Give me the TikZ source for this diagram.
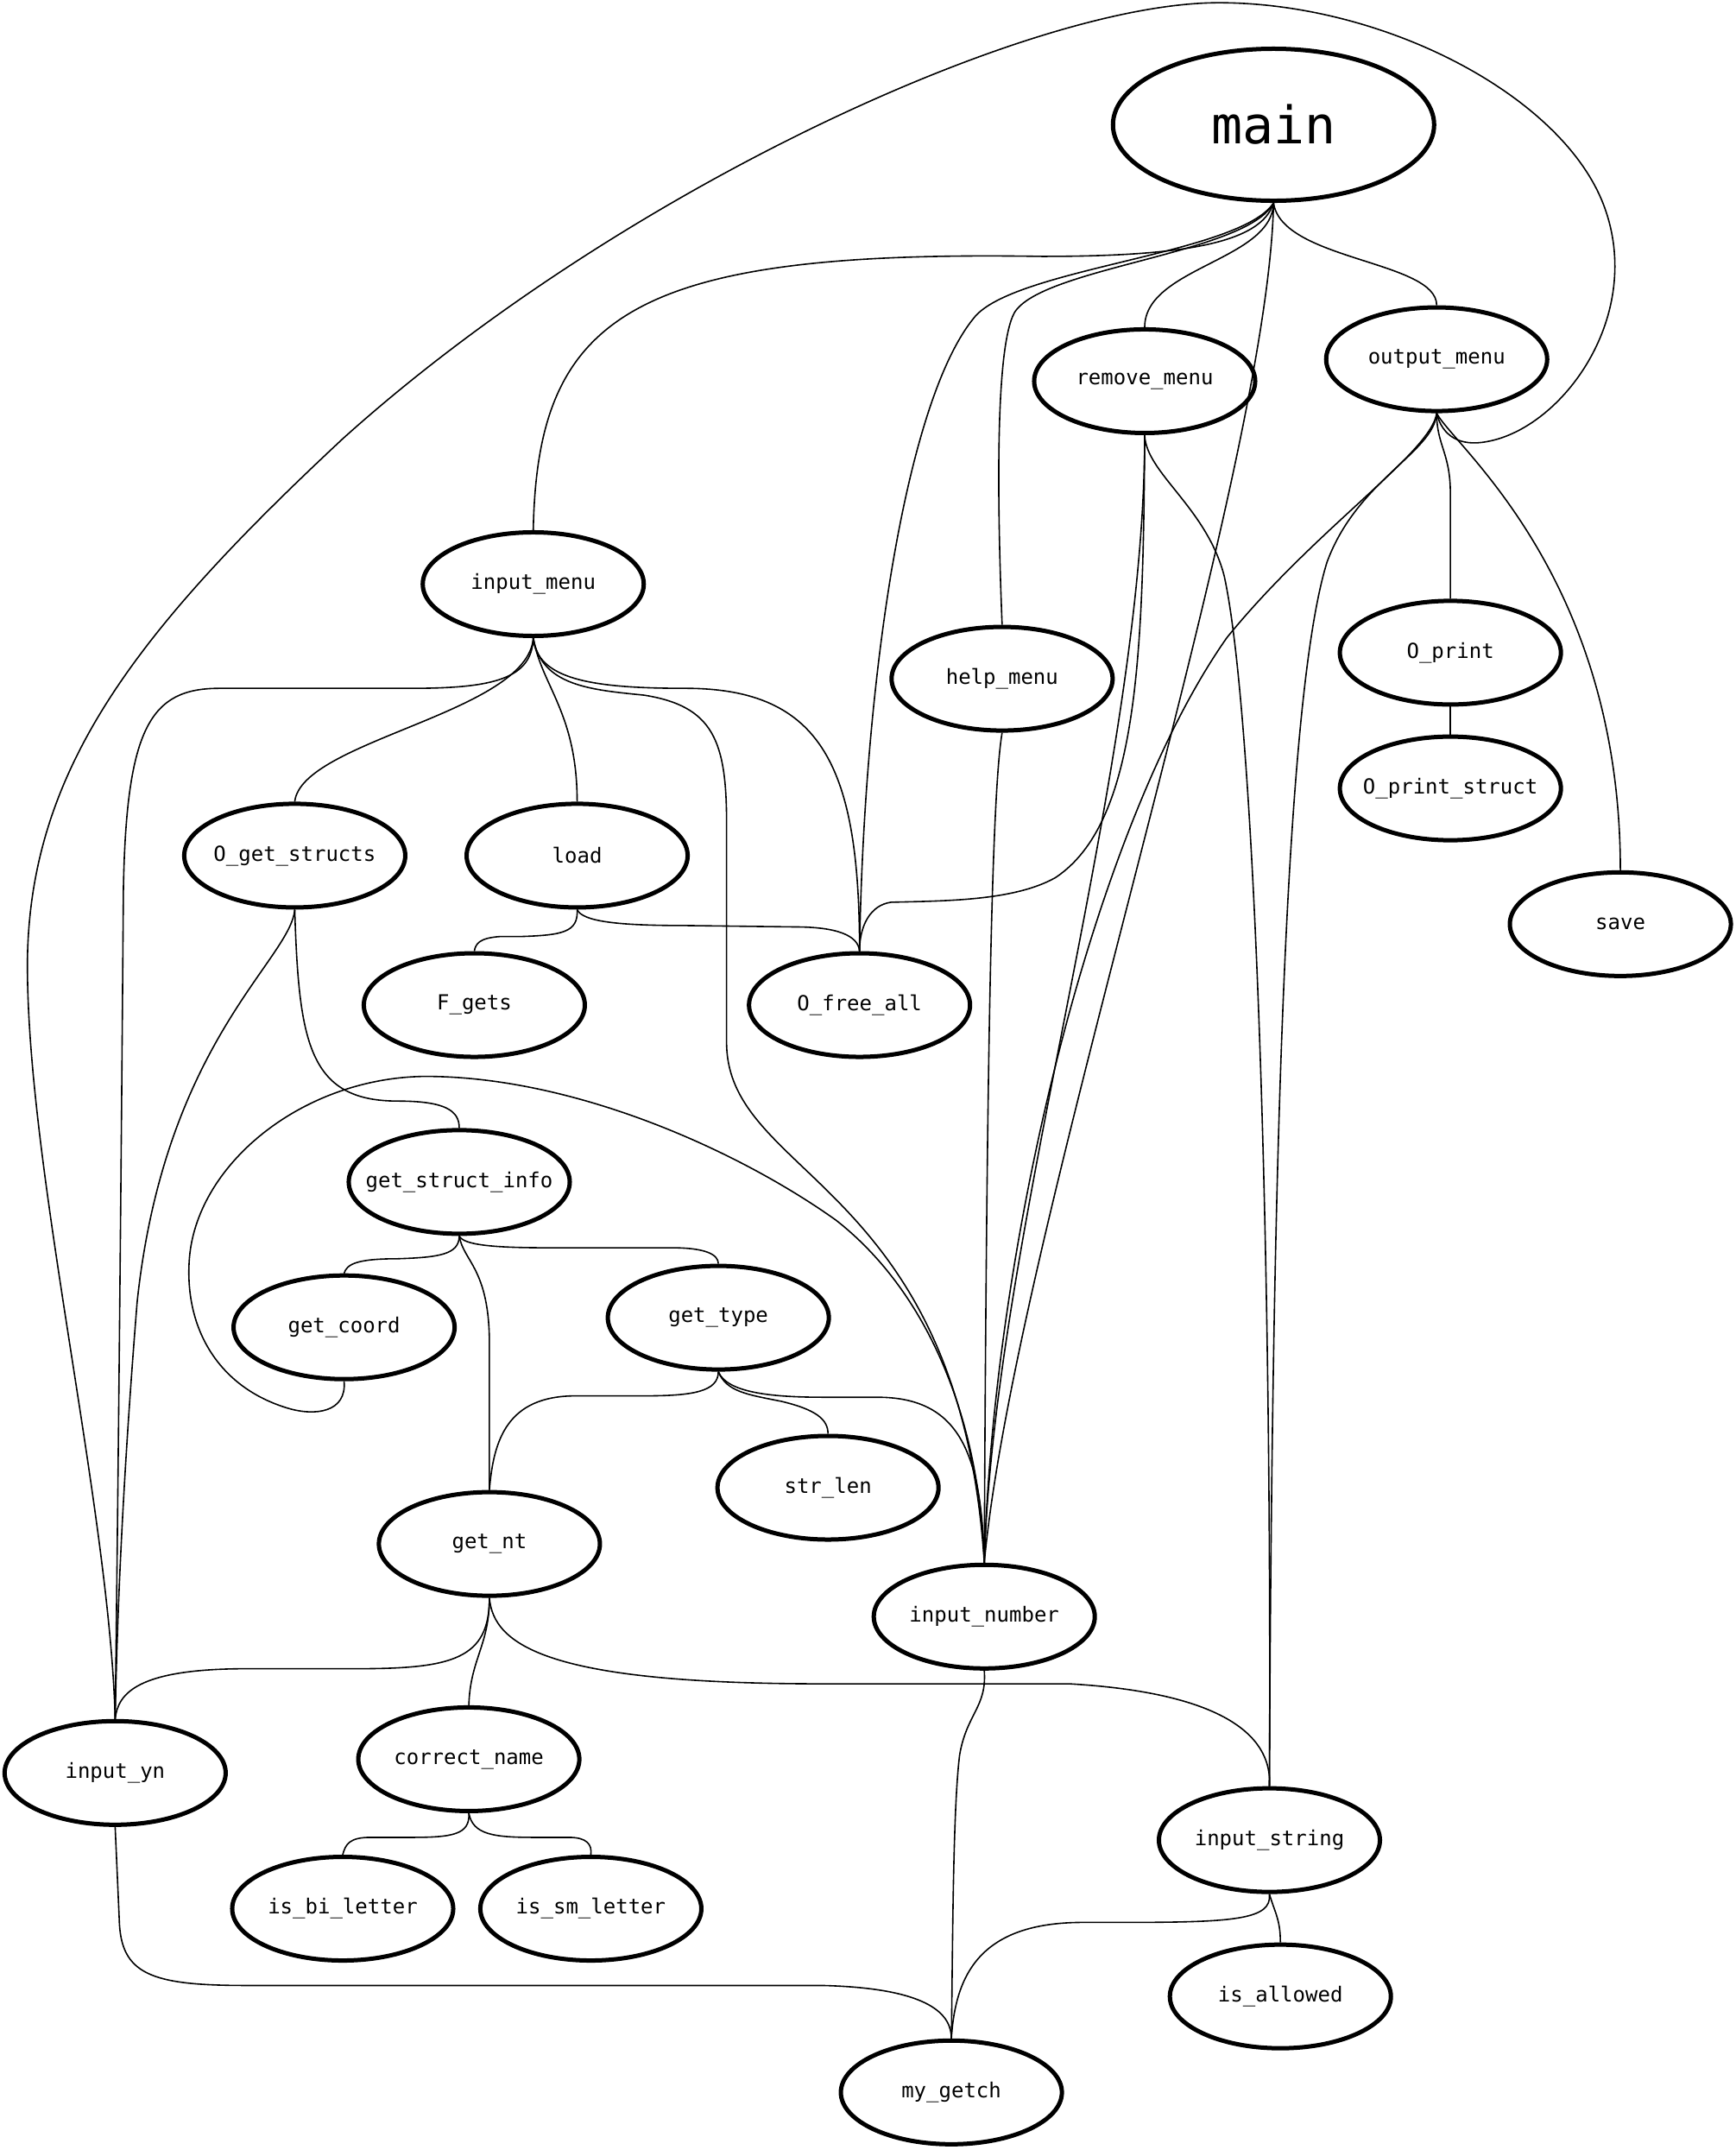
\documentclass[tikz,border=0pt]{standalone}
\usepackage{fontspec}
\setmonofont{DejaVu Sans Mono}
\usetikzlibrary{shapes.geometric}
\newcommand\fixw[1]{\makebox[0pt]{#1}}
\begin{document}
\begin{tikzpicture}[x=0.79385pt,y=-0.79385pt,
  fn/.style={ellipse,draw,line width=2.5pt,minimum width=128pt,minimum height=60pt,inner sep=0pt,font=\ttfamily\fontsize{12}{14}\selectfont},
  bigfn/.style={fn,minimum width=186pt,minimum height=88pt,font=\ttfamily\fontsize{30}{36}\selectfont},
  ed/.style={line width=0.8pt}]
\useasboundingbox[fill=white] (0,0) rectangle (1266,1568);

\node[bigfn] (main) at (929,91) {main};
\node[fn] (output_menu) at (1048,262) {output\_menu};
\node[fn] (remove_menu) at (835,278) {remove\_menu};
\node[fn] (input_menu) at (389,426) {input\_menu};
\node[fn] (help_menu) at (731,495) {help\_menu};
\node[fn] (O_print) at (1058,476) {O\_print};
\node[fn] (O_print_struct) at (1058,575) {\fixw{O\_print\_struct}};
\node[fn] (save) at (1182,674) {save};
\node[fn] (O_get_structs) at (215,624) {\fixw{O\_get\_structs}};
\node[fn] (load) at (421,624) {load};
\node[fn] (F_gets) at (346,733) {F\_gets};
\node[fn] (O_free_all) at (627,733) {O\_free\_all};
\node[fn] (get_struct_info) at (335,862) {\fixw{get\_struct\_info}};
\node[fn] (get_coord) at (251,968) {get\_coord};
\node[fn] (get_type) at (524,961) {get\_type};
\node[fn] (str_len) at (604,1085) {str\_len};
\node[fn] (get_nt) at (357,1126) {get\_nt};
\node[fn] (input_number) at (718,1179) {input\_number};
\node[fn] (input_yn) at (84,1293) {input\_yn};
\node[fn] (correct_name) at (342,1283) {correct\_name};
\node[fn] (is_bi_letter) at (250,1392) {is\_bi\_letter};
\node[fn] (is_sm_letter) at (431,1392) {is\_sm\_letter};
\node[fn] (input_string) at (926,1342) {input\_string};
\node[fn] (is_allowed) at (934,1456) {is\_allowed};
\node[fn] (my_getch) at (694,1526) {my\_getch};

% main
\draw[ed] (main.south) .. controls (935,190) and (1048,190) .. (output_menu.north);
\draw[ed] (main.south) .. controls (928,190) and (835,195) .. (remove_menu.north);
\draw[ed] (main.south) .. controls (920,178) and (860,187) .. (760,187) .. controls (460,182) and (392,230) .. (input_menu.north);
\draw[ed] (main.south) .. controls (910,185) and (760,195) .. (740,228) .. controls (725,255) and (728,380) .. (help_menu.north);
\draw[ed] (main.south) .. controls (905,185) and (745,195) .. (712,230) .. controls (660,290) and (630,500) .. (O_free_all.north);
\draw[ed] (main.south) .. controls (925,350) and (740,900) .. (input_number.north);

% remove_menu
\draw[ed] (remove_menu.south) .. controls (834,480) and (830,600) .. (770,640) .. controls (740,657) and (690,657) .. (650,658) .. controls (635,660) and (627,675) .. (O_free_all.north);
\draw[ed] (remove_menu.south) .. controls (835,560) and (725,900) .. (input_number.north);
\draw[ed] (remove_menu.south) .. controls (836,345) and (880,370) .. (893,420) .. controls (915,520) and (928,900) .. (input_string.north);

% output_menu
\draw[ed] (output_menu.south) .. controls (1048,325) and (1058,330) .. (1058,360) -- (O_print.north);
\draw[ed] (output_menu.south) .. controls (1060,325) and (1182,420) .. (save.north);
\draw[ed] (output_menu.south) .. controls (1044,330) and (960,385) .. (895,465) .. controls (800,600) and (725,900) .. (input_number.north);
\draw[ed] (output_menu.south) .. controls (1046,330) and (990,350) .. (968,410) .. controls (940,500) and (928,800) .. (input_string.north);
\draw[ed] (output_menu.south) .. controls (1052,318) and (1065,326) .. (1085,322) .. controls (1140,312) and (1200,230) .. (1170,150) .. controls (1140,70) and (1010,2) .. (889,2) .. controls (750,2) and (450,140) .. (250,320) .. controls (100,460) and (22,560) .. (20,700) .. controls (19,850) and (80,1100) .. (input_yn.north);

\draw[ed] (O_print.south) -- (O_print_struct.north);

% input_menu
\draw[ed] (input_menu.south) .. controls (388,495) and (360,502) .. (300,502) -- (160,502) .. controls (110,502) and (92,530) .. (90,650) .. controls (88,900) and (86,1100) .. (input_yn.north);
\draw[ed] (input_menu.south) .. controls (385,520) and (220,540) .. (O_get_structs.north);
\draw[ed] (input_menu.south) .. controls (395,500) and (421,520) .. (load.north);
\draw[ed] (input_menu.south) .. controls (392,495) and (430,502) .. (500,502) .. controls (600,502) and (627,560) .. (O_free_all.north);
\draw[ed] (input_menu.south) .. controls (395,500) and (430,503) .. (470,507) .. controls (520,515) and (530,540) .. (530,600) -- (530,760) .. controls (530,860) and (700,860) .. (input_number.north);

\draw[ed] (help_menu.south) .. controls (725,570) and (720,700) .. (input_number.north);

% O_get_structs
\draw[ed] (O_get_structs.south) .. controls (212,700) and (120,760) .. (100,950) .. controls (92,1050) and (86,1150) .. (input_yn.north);
\draw[ed] (O_get_structs.south) .. controls (218,760) and (225,803) .. (290,803) .. controls (325,803) and (335,810) .. (get_struct_info.north);

% load
\draw[ed] (load.south) .. controls (422,680) and (410,682) .. (380,683) -- (365,683) .. controls (350,684) and (347,688) .. (F_gets.north);
\draw[ed] (load.south) .. controls (425,672) and (450,675) .. (500,675) -- (580,676) .. controls (610,676) and (626,682) .. (O_free_all.north);

% get_struct_info
\draw[ed] (get_struct_info.south) .. controls (335,915) and (320,917) .. (290,918) .. controls (260,918) and (253,922) .. (get_coord.north);
\draw[ed] (get_struct_info.south) .. controls (338,908) and (360,910) .. (400,910) -- (490,910) .. controls (515,910) and (524,915) .. (get_type.north);
\draw[ed] (get_struct_info.south) .. controls (338,920) and (357,925) .. (357,980) -- (get_nt.north);

% get_coord
\draw[ed] (get_coord.south) .. controls (253,1030) and (230,1033) .. (210,1027) .. controls (160,1012) and (135,970) .. (138,920) .. controls (142,850) and (220,786) .. (310,785) .. controls (420,785) and (540,840) .. (610,890) .. controls (680,945) and (715,1040) .. (input_number.north);

% get_type
\draw[ed] (get_type.south) .. controls (524,1015) and (505,1018) .. (470,1018) -- (420,1018) .. controls (370,1018) and (360,1050) .. (get_nt.north);
\draw[ed] (get_type.south) .. controls (530,1015) and (545,1017) .. (570,1022) .. controls (595,1028) and (604,1035) .. (str_len.north);
\draw[ed] (get_type.south) .. controls (530,1015) and (560,1019) .. (600,1019) -- (640,1019) .. controls (700,1019) and (716,1060) .. (input_number.north);

% get_nt
\draw[ed] (get_nt.south) .. controls (357,1210) and (330,1217) .. (260,1217) -- (180,1217) .. controls (100,1217) and (86,1235) .. (input_yn.north);
\draw[ed] (get_nt.south) .. controls (357,1200) and (343,1210) .. (correct_name.north);
\draw[ed] (get_nt.south) .. controls (360,1200) and (400,1228) .. (600,1228) -- (780,1228) .. controls (900,1235) and (928,1270) .. (input_string.north);

% correct_name
\draw[ed] (correct_name.south) .. controls (343,1338) and (330,1340) .. (300,1340) -- (270,1340) .. controls (255,1340) and (252,1345) .. (is_bi_letter.north);
\draw[ed] (correct_name.south) .. controls (345,1338) and (360,1340) .. (390,1340) -- (415,1340) .. controls (428,1340) and (432,1345) .. (is_sm_letter.north);

% my_getch
\draw[ed] (input_number.south) .. controls (720,1245) and (705,1250) .. (700,1280) .. controls (695,1320) and (695,1420) .. (my_getch.north);
\draw[ed] (input_yn.south) -- (87,1400) .. controls (88,1440) and (110,1448) .. (180,1448) -- (600,1448) .. controls (680,1450) and (694,1470) .. (my_getch.north);
\draw[ed] (input_string.south) .. controls (928,1400) and (900,1402) .. (820,1402) -- (790,1402) .. controls (715,1402) and (697,1440) .. (my_getch.north);
\draw[ed] (input_string.south) .. controls (930,1395) and (934,1400) .. (is_allowed.north);
\end{tikzpicture}
\end{document}
